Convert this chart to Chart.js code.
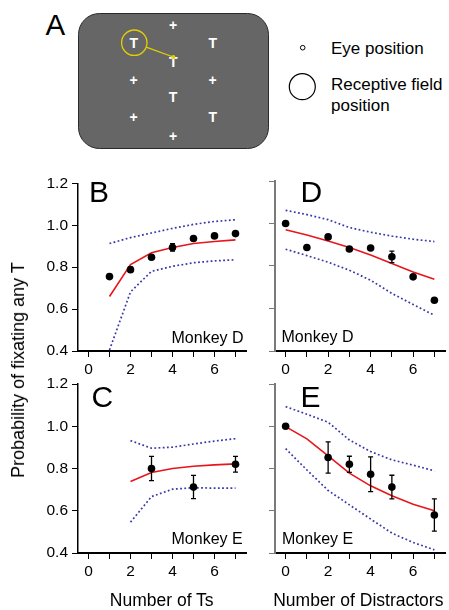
<!DOCTYPE html>
<html><head><meta charset="utf-8">
<script src="https://cdn.jsdelivr.net/npm/chart.js@4.4.1/dist/chart.umd.min.js"></script>
<style>
html,body{margin:0;padding:0;background:#fff;}
body{width:449px;height:610px;position:relative;overflow:hidden;font-family:"Liberation Sans",Arial,Helvetica,sans-serif;color:#000;}
canvas{position:absolute;}
.lbl{position:absolute;line-height:1;white-space:nowrap;}
.pl{font-size:30px;}
.mk{font-size:16px;}
.xt{font-size:17.5px;width:220px;text-align:center;}
</style></head><body>

<svg width="449" height="170" style="position:absolute;left:0;top:0" font-family="Liberation Sans, Arial, sans-serif">
  <text x="45.5" y="35" font-size="29.5" fill="#000">A</text>
  <rect x="78.5" y="13.5" width="190" height="135" rx="21" ry="21" fill="#666666" stroke="#2a2a2a" stroke-width="1"/>
  <g fill="#fff" font-weight="bold" font-size="14" text-anchor="middle">
    <text x="133.7" y="47.5">T</text>
    <text x="212.7" y="47.7">T</text>
    <text x="173.3" y="66.5">T</text>
    <text x="173" y="102.3">T</text>
    <text x="212.7" y="121.7">T</text>
    <text x="173" y="30">+</text>
    <text x="133.7" y="85">+</text>
    <text x="212.7" y="85">+</text>
    <text x="133.7" y="122.3">+</text>
    <text x="173" y="140.7">+</text>
  </g>
  <circle cx="134.3" cy="42.7" r="12.7" fill="none" stroke="#e4d000" stroke-width="1.3"/>
  <line x1="146.2" y1="47.1" x2="173.3" y2="57" stroke="#e4d000" stroke-width="1.3"/>
  <circle cx="173.3" cy="57" r="2" fill="#e4d000"/>
  <circle cx="302.7" cy="47.7" r="2.3" fill="none" stroke="#000" stroke-width="1"/>
  <circle cx="302.3" cy="86.7" r="13" fill="none" stroke="#000" stroke-width="1.2"/>
  <g font-size="17" fill="#000">
    <text x="331" y="54.3">Eye position</text>
    <text x="331" y="90">Receptive field</text>
    <text x="331" y="110.7">position</text>
  </g>
</svg>

<canvas id="cB" width="250" height="211" style="left:0;top:170px"></canvas>
<canvas id="cD" width="199" height="211" style="left:250px;top:170px"></canvas>
<canvas id="cC" width="250" height="213" style="left:0;top:370px"></canvas>
<canvas id="cE" width="199" height="213" style="left:250px;top:370px"></canvas>

<div class="lbl pl" style="left:89px;top:177px">B</div>
<div class="lbl pl" style="left:300.5px;top:177px">D</div>
<div class="lbl pl" style="left:91.5px;top:381.5px">C</div>
<div class="lbl pl" style="left:300.5px;top:381.5px">E</div>

<div class="lbl mk" style="left:171.5px;top:329.8px">Monkey D</div>
<div class="lbl mk" style="left:281.5px;top:328.8px">Monkey D</div>
<div class="lbl mk" style="left:171.5px;top:530.5px">Monkey E</div>
<div class="lbl mk" style="left:282px;top:530.5px">Monkey E</div>

<div class="lbl" style="left:18px;top:370px;font-size:18px;transform:translate(-50%,-50%) rotate(-90deg);">Probability of fixating any T</div>
<div class="lbl xt" style="left:51.7px;top:592px">Number of Ts</div>
<div class="lbl xt" style="left:248.3px;top:592px">Number of Distractors</div>

<script>
// ---- tick values / labels ----
const xTicks = [0, 1, 2, 3, 4, 5, 6, 7];
const xTickLabels = ["0", "", "2", "", "4", "", "6", ""];
const yTicks = [0.4, 0.6, 0.8, 1.0, 1.2];
const yTickLabels = ["0.4", "0.6", "0.8", "1.0", "1.2"];

// ---- Panel B: Monkey D, number of Ts ----
const bObsX = [1, 2, 3, 4, 5, 6, 7];
const bObs = [0.755, 0.788, 0.847, 0.894, 0.937, 0.949, 0.960];
const bErr = [0, 0.012, 0, 0.018, 0, 0, 0];
const bX = [1, 2, 3, 4, 5, 6, 7];
const bModel = [0.660, 0.812, 0.869, 0.894, 0.913, 0.922, 0.930];
const bUpper = [0.913, 0.941, 0.963, 0.985, 1.004, 1.018, 1.026];
const bLower = [0.405, 0.682, 0.780, 0.804, 0.821, 0.830, 0.835];

// ---- Panel D: Monkey D, number of distractors ----
const dObsX = [0, 1, 2, 3, 4, 5, 6, 7];
const dObs = [1.000, 0.887, 0.937, 0.880, 0.885, 0.843, 0.749, 0.639];
const dErr = [0, 0, 0, 0, 0, 0.027, 0, 0];
const dX = [0, 1, 2, 3, 4, 5, 6, 7];
const dModel = [0.971, 0.946, 0.918, 0.887, 0.852, 0.812, 0.772, 0.738];
const dUpper = [1.062, 1.042, 1.018, 0.981, 0.959, 0.941, 0.926, 0.915];
const dLower = [0.879, 0.849, 0.818, 0.780, 0.733, 0.671, 0.619, 0.568];

// ---- Panel C: Monkey E, number of Ts ----
const cObsX = [3, 5, 7];
const cObs = [0.800, 0.712, 0.820];
const cErr = [0.057, 0.055, 0.037];
const cX = [2, 3, 4, 5, 6, 7];
const cModel = [0.738, 0.781, 0.800, 0.811, 0.817, 0.822];
const cUpper = [0.932, 0.896, 0.901, 0.916, 0.930, 0.941];
const cLower = [0.546, 0.667, 0.702, 0.709, 0.707, 0.707];

// ---- Panel E: Monkey E, number of distractors ----
const eObsX = [0, 2, 3, 4, 5, 7];
const eObs = [1.000, 0.852, 0.820, 0.773, 0.712, 0.580];
const eErr = [0, 0.074, 0.038, 0.082, 0.056, 0.076];
const eX = [0, 1, 2, 3, 4, 5, 6, 7];
const eModel = [0.998, 0.940, 0.860, 0.778, 0.718, 0.671, 0.631, 0.600];
const eUpper = [1.093, 1.057, 1.019, 0.935, 0.880, 0.841, 0.816, 0.789];
const eLower = [0.894, 0.793, 0.696, 0.628, 0.561, 0.494, 0.450, 0.415];

const FONT = "'Liberation Sans', Arial, Helvetica, sans-serif";
const pts = (xs, ys) => xs.map((x, i) => ({x: x, y: ys[i]}));

const errorBars = {
  id: 'errorBars',
  afterDatasetsDraw(chart) {
    const ds = chart.data.datasets[0];
    if (!ds.errors) return;
    const ctx = chart.ctx, xs = chart.scales.x, ys = chart.scales.y;
    ctx.save();
    ctx.strokeStyle = '#000';
    ctx.lineWidth = 1.3;
    ds.data.forEach((p, i) => {
      const e = ds.errors[i];
      if (!e) return;
      const px = xs.getPixelForValue(p.x);
      const y1 = ys.getPixelForValue(p.y + e), y2 = ys.getPixelForValue(p.y - e);
      ctx.beginPath();
      ctx.moveTo(px, y1); ctx.lineTo(px, y2);
      ctx.moveTo(px - 2.5, y1); ctx.lineTo(px + 2.5, y1);
      ctx.moveTo(px - 2.5, y2); ctx.lineTo(px + 2.5, y2);
      ctx.stroke();
    });
    ctx.restore();
  }
};

function makeChart(id, cfg) {
  const axisCol = cfg.grayY ? '#7a7a7a' : '#000';
  new Chart(document.getElementById(id), {
    type: 'scatter',
    data: {
      datasets: [
        {label: 'Observed', data: pts(cfg.obsX, cfg.obs), errors: cfg.err, showLine: false,
         pointRadius: 3.8, pointBackgroundColor: '#000', pointBorderWidth: 0, order: 0},
        {label: 'Model', data: pts(cfg.x, cfg.model), showLine: true, borderColor: '#e8151b',
         borderWidth: 1.6, pointRadius: 0, tension: 0, order: 1},
        {label: 'Upper', data: pts(cfg.x, cfg.upper), showLine: true, borderColor: '#3838a8',
         borderWidth: 1.7, borderDash: [1.8, 2.4], pointRadius: 0, tension: 0, order: 2},
        {label: 'Lower', data: pts(cfg.x, cfg.lower), showLine: true, borderColor: '#3838a8',
         borderWidth: 1.7, borderDash: [1.8, 2.4], pointRadius: 0, tension: 0, order: 2}
      ]
    },
    options: {
      responsive: false, animation: false, events: [],
      layout: {padding: {top: cfg.padTop, right: cfg.padRight, left: 0, bottom: 0}},
      plugins: {legend: {display: false}, tooltip: {enabled: false}},
      scales: {
        x: {
          type: 'linear', min: -0.5, max: 7.5,
          afterBuildTicks: s => { s.ticks = xTicks.map(v => ({value: v})); },
          afterFit: s => { s.height = cfg.xHeight; },
          grid: {display: true, drawOnChartArea: false, drawTicks: true, tickLength: 6, color: '#000', lineWidth: 1},
          border: {display: true, color: '#000', width: 2},
          ticks: {callback: (v, i) => xTickLabels[i], font: {size: 15.5, family: FONT}, color: '#000',
                  padding: 3, maxRotation: 0, autoSkip: false}
        },
        y: {
          type: 'linear', min: 0.4, max: 1.2,
          afterBuildTicks: s => { s.ticks = yTicks.map(v => ({value: v})); },
          afterFit: s => { s.width = cfg.yWidth; },
          grid: {display: true, drawOnChartArea: false, drawTicks: true, tickLength: 6, color: axisCol, lineWidth: 1},
          border: {display: true, color: axisCol, width: cfg.grayY ? 2 : 1.5},
          ticks: {display: !cfg.grayY, callback: (v, i) => yTickLabels[i], font: {size: 15.5, family: FONT},
                  color: '#000', padding: 4, autoSkip: false}
        }
      }
    },
    plugins: [errorBars]
  });
}

makeChart('cB', {obsX: bObsX, obs: bObs, err: bErr, x: bX, model: bModel, upper: bUpper, lower: bLower,
  padTop: 11, padRight: 2, yWidth: 78, xHeight: 30, grayY: false});
makeChart('cD', {obsX: dObsX, obs: dObs, err: dErr, x: dX, model: dModel, upper: dUpper, lower: dLower,
  padTop: 11, padRight: 4, yWidth: 25, xHeight: 30, grayY: true});
makeChart('cC', {obsX: cObsX, obs: cObs, err: cErr, x: cX, model: cModel, upper: cUpper, lower: cLower,
  padTop: 14, padRight: 2, yWidth: 78, xHeight: 30, grayY: false});
makeChart('cE', {obsX: eObsX, obs: eObs, err: eErr, x: eX, model: eModel, upper: eUpper, lower: eLower,
  padTop: 14, padRight: 4, yWidth: 25, xHeight: 30, grayY: true});
</script>
</body></html>
